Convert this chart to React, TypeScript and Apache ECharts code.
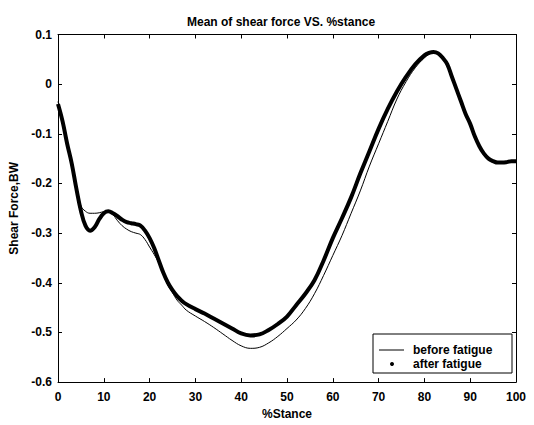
import React, { useEffect, useRef } from "react";
import * as echarts from "echarts";

const beforeX = [0, 1, 2, 3, 4, 5, 6, 7, 8, 9, 10, 11, 12, 13, 14, 15, 16, 17, 18, 19, 20, 21, 22, 23, 24, 25, 26, 27, 28, 30, 32, 34, 36, 38, 40, 42, 44, 46, 48, 50, 52, 54, 56, 58, 60, 62, 64, 66, 68, 70, 72, 74, 76, 78, 80, 81, 82, 83, 84, 85, 86, 87, 88, 89, 90, 91, 92, 93, 94, 95, 96, 97, 98, 99, 100];
const beforeY = [-0.035, -0.075, -0.12, -0.16, -0.205, -0.245, -0.256, -0.26, -0.26, -0.259, -0.257, -0.257, -0.263, -0.275, -0.285, -0.292, -0.297, -0.3, -0.303, -0.313, -0.328, -0.343, -0.36, -0.383, -0.405, -0.42, -0.435, -0.445, -0.455, -0.467, -0.478, -0.49, -0.503, -0.516, -0.527, -0.532, -0.53, -0.521, -0.508, -0.492, -0.475, -0.452, -0.422, -0.385, -0.345, -0.305, -0.26, -0.215, -0.165, -0.12, -0.075, -0.03, 0.005, 0.033, 0.053, 0.06, 0.064, 0.062, 0.053, 0.04, 0.015, -0.01, -0.035, -0.06, -0.08, -0.105, -0.125, -0.14, -0.15, -0.155, -0.158, -0.158, -0.157, -0.155, -0.155];

const afterX = [0, 1, 2, 3, 4, 5, 6, 7, 8, 9, 10, 11, 12, 13, 14, 15, 16, 17, 18, 19, 20, 21, 22, 23, 24, 25, 26, 27, 28, 30, 32, 34, 36, 38, 40, 42, 44, 46, 48, 50, 52, 54, 56, 58, 60, 62, 64, 66, 68, 70, 72, 74, 76, 78, 80, 81, 82, 83, 84, 85, 86, 87, 88, 89, 90, 91, 92, 93, 94, 95, 96, 97, 98, 99, 100];
const afterY = [-0.04, -0.075, -0.12, -0.16, -0.21, -0.255, -0.285, -0.295, -0.288, -0.272, -0.26, -0.256, -0.26, -0.266, -0.273, -0.278, -0.28, -0.282, -0.285, -0.295, -0.31, -0.33, -0.355, -0.38, -0.4, -0.415, -0.427, -0.436, -0.443, -0.453, -0.462, -0.472, -0.482, -0.492, -0.502, -0.506, -0.504, -0.495, -0.483, -0.468, -0.445, -0.422, -0.395, -0.355, -0.31, -0.27, -0.228, -0.18, -0.135, -0.09, -0.05, -0.015, 0.015, 0.04, 0.058, 0.063, 0.065, 0.062, 0.053, 0.04, 0.015, -0.01, -0.035, -0.06, -0.08, -0.105, -0.125, -0.14, -0.15, -0.155, -0.158, -0.158, -0.157, -0.155, -0.155];

const seriesNames = ["before fatigue", "after fatigue"];
const titleText = "Mean of shear force VS. %stance";
const xName = "%Stance";
const yName = "Shear Force,BW";

const FONT = "Liberation Sans, Arial, sans-serif";

export default function App() {
  const ref = useRef<HTMLDivElement>(null);
  useEffect(() => {
    if (!ref.current) return;
    const chart = echarts.init(ref.current, undefined, { renderer: "svg" });
    const txt = { color: "#000", fontFamily: FONT, fontSize: 12, fontWeight: "bold" as const };
    const axisLine = { show: true, onZero: false, lineStyle: { color: "#000", width: 1 } };
    const tick = { show: true, inside: true, length: 4, lineStyle: { color: "#000" } };
    chart.setOption({
      animation: false,
      backgroundColor: "#fff",
      title: {
        text: titleText,
        left: 182,
        top: 11,
        textStyle: { ...txt, fontSize: 12 },
      },
      grid: { left: 58, right: 18, top: 34.5, bottom: 36.5, containLabel: false },
      xAxis: [
        {
          type: "value",
          min: 0,
          max: 100,
          interval: 10,
          name: xName,
          nameLocation: "middle",
          nameGap: 20,
          nameTextStyle: txt,
          axisLine,
          axisTick: tick,
          axisLabel: { ...txt, margin: 9 },
          splitLine: { show: false },
        },
        {
          type: "value",
          position: "top",
          min: 0,
          max: 100,
          interval: 10,
          axisLine,
          axisTick: tick,
          axisLabel: { show: false },
          splitLine: { show: false },
        },
      ],
      yAxis: [
        {
          type: "value",
          min: -0.6,
          max: 0.1,
          interval: 0.1,
          name: yName,
          nameLocation: "middle",
          nameGap: 26,
          nameTextStyle: txt,
          axisLine,
          axisTick: tick,
          axisLabel: {
            ...txt,
            margin: 6,
            formatter: (v: number) => {
              const r = Math.round(v * 10) / 10;
              return r === 0 ? "0" : r.toFixed(1);
            },
          },
          splitLine: { show: false },
        },
        {
          type: "value",
          position: "right",
          min: -0.6,
          max: 0.1,
          interval: 0.1,
          axisLine,
          axisTick: tick,
          axisLabel: { show: false },
          splitLine: { show: false },
        },
      ],
      series: [
        {
          name: seriesNames[0],
          type: "line",
          data: beforeX.map((x, i) => [x, beforeY[i]]),
          smooth: 0.4,
          symbol: "none",
          lineStyle: { color: "#000", width: 1 },
          z: 2,
        },
        {
          name: seriesNames[1],
          type: "line",
          data: afterX.map((x, i) => [x, afterY[i]]),
          smooth: 0.4,
          symbol: "none",
          lineStyle: { color: "#000", width: 4 },
          z: 3,
        },
      ],
      graphic: [
        {
          type: "group",
          z: 100,
          children: [
            {
              type: "rect",
              shape: { x: 373, y: 334, width: 139, height: 39 },
              style: { fill: "#fff", stroke: "#000", lineWidth: 1 },
            },
            {
              type: "line",
              shape: { x1: 379, y1: 350, x2: 404, y2: 350 },
              style: { stroke: "#000", lineWidth: 1 },
            },
            {
              type: "circle",
              shape: { cx: 392, cy: 364, r: 2 },
              style: { fill: "#000" },
            },
            {
              type: "text",
              x: 413,
              y: 350,
              style: { text: seriesNames[0], fill: "#000", font: "bold 12px " + FONT, verticalAlign: "middle" },
            },
            {
              type: "text",
              x: 413,
              y: 364,
              style: { text: seriesNames[1], fill: "#000", font: "bold 12px " + FONT, verticalAlign: "middle" },
            },
          ],
        },
      ],
    });
    return () => chart.dispose();
  }, []);
  return <div ref={ref} style={{ width: 534, height: 425, position: "absolute", left: 0, top: 0 }} />;
}
